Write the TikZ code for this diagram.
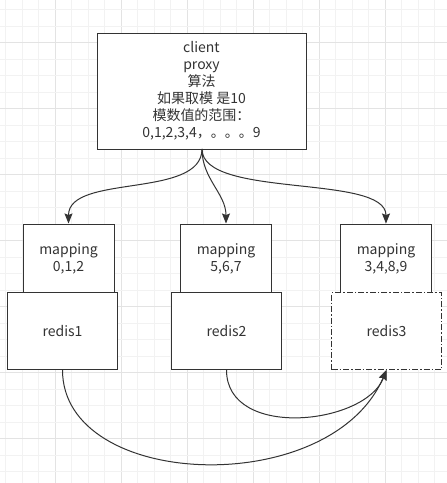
\documentclass[tikz,border=0pt]{standalone}
\usepackage{fontspec}
\setmainfont{Noto Sans CJK SC}
\usepackage{tikz, xcolor}
\usetikzlibrary{shapes,arrows.meta}
\definecolor{inkgray}{HTML}{333333}
\definecolor{gridminor}{HTML}{F2F2F2}
\definecolor{gridmajor}{HTML}{E3E3E3}

\begin{document}
\begin{tikzpicture}[x=1pt, y=-1pt, line width=1pt]
\tikzstyle{boxr}=[rectangle, draw=inkgray, fill=white, text=inkgray, align=center, inner sep=2pt, font=\fontsize{14}{17}\selectfont]
\tikzstyle{boxd}=[boxr, dash pattern=on 6pt off 2pt on 1.5pt off 2pt]
\tikzstyle{drawstyle}=[draw=inkgray, -{Stealth[length=10pt, width=8pt, inset=1.5pt]}]

% background grid
\useasboundingbox (0,0) rectangle (447,483);
\fill[white] (0,0) rectangle (447,483);
\foreach \k in {0,...,26} {
  \pgfmathsetmacro{\gx}{5.5+16.5*\k}
  \pgfmathparse{mod(\k,4)==3 ? 1 : 0}
  \ifnum\pgfmathresult=1
    \draw[gridmajor, line width=1pt] (\gx,0) -- (\gx,483);
  \else
    \draw[gridminor, line width=1pt] (\gx,0) -- (\gx,483);
  \fi
}
\foreach \k in {0,...,28} {
  \pgfmathsetmacro{\gy}{9.7+16.5*\k}
  \pgfmathparse{mod(\k,4)==2 ? 1 : 0}
  \ifnum\pgfmathresult=1
    \draw[gridmajor, line width=1pt] (0,\gy) -- (447,\gy);
  \else
    \draw[gridminor, line width=1pt] (0,\gy) -- (447,\gy);
  \fi
}

\node[boxr, minimum width=209pt, minimum height=116pt] (proxy) at (201.5,91)
  {client\\proxy\\算法\\如果取模 是10\\模数值的范围：\\0,1,2,3,4，。。。9};

\node[boxr, minimum width=91pt, minimum height=69pt] (map1) at (68.5,258.5) {mapping\\0,1,2};
\node[boxr, minimum width=91pt, minimum height=69pt] (map2) at (226,258.5) {mapping\\5,6,7};
\node[boxr, minimum width=91pt, minimum height=69pt] (map3) at (386,258.5) {mapping\\3,4,8,9};

\node[boxr, minimum width=110pt, minimum height=77pt] (redis1) at (62.5,331) {redis1};
\node[boxr, minimum width=110pt, minimum height=77pt] (redis2) at (226.5,331) {redis2};
\node[boxd, minimum width=110pt, minimum height=77pt] (redis3) at (386.5,331) {redis3};

\coordinate (out) at (202,149);
\draw[drawstyle] (out) .. controls +(0,50) and +(0,-50) .. (map1.north);
\draw[drawstyle] (out) .. controls +(0,30) and +(0,-30) .. (map2.north);
\draw[drawstyle] (out) .. controls +(0,50) and +(0,-50) .. (map3.north);
\draw[drawstyle] (redis2.south) .. controls +(0,70) and +(-21,55) .. (redis3.south);
\draw[drawstyle] (redis1.south) .. controls +(0,120) and +(-56,130) .. (redis3.south);
\end{tikzpicture}
\end{document}
